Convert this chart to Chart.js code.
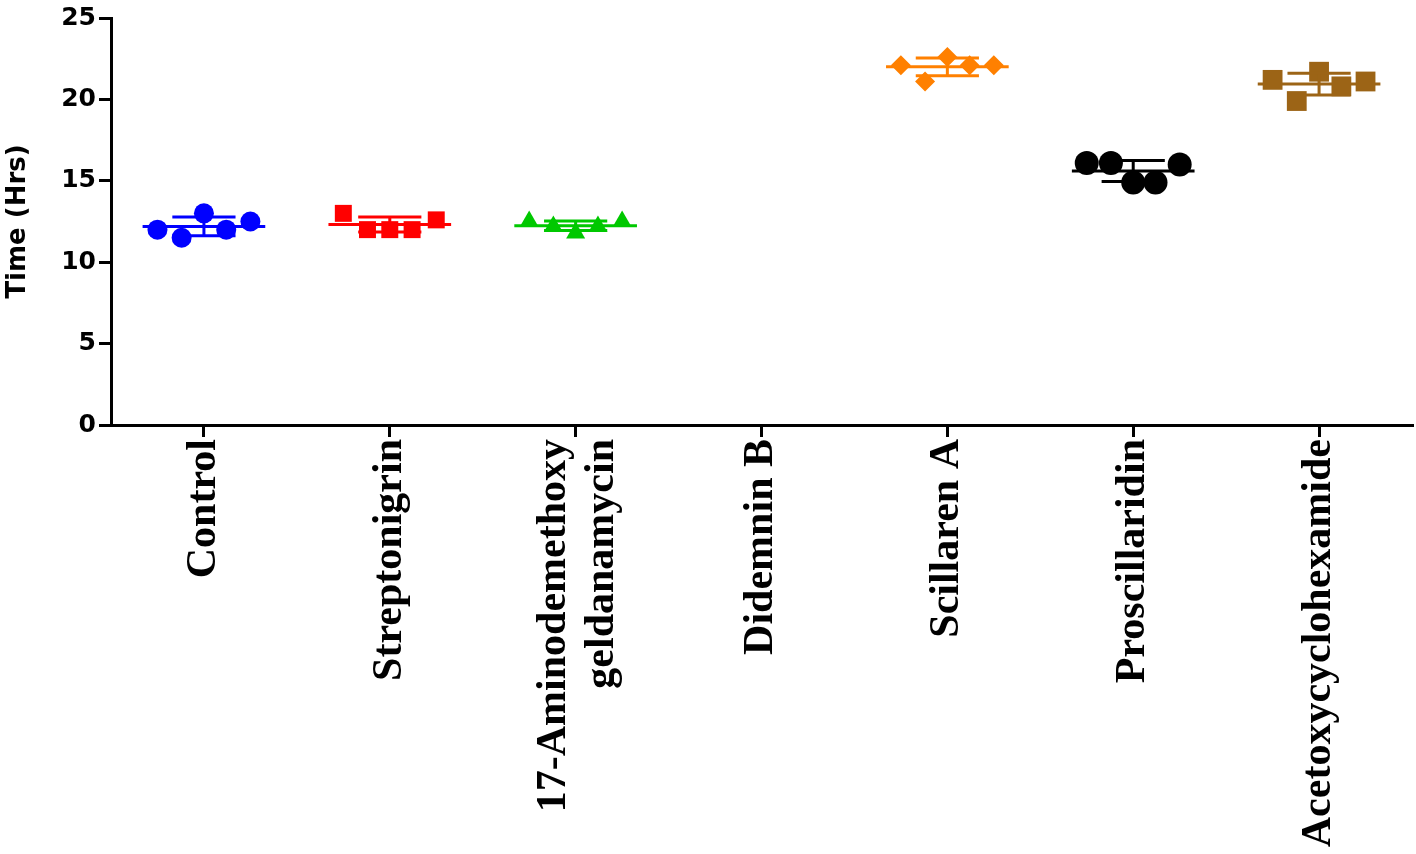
<!DOCTYPE html>
<html>
<head>
<meta charset="utf-8">
<script src="https://cdn.jsdelivr.net/npm/chart.js@4"></script>
<style>
  html, body { margin: 0; padding: 0; background: #fff; }
  #wrap { width: 1416px; height: 854px; }
</style>
</head>
<body>
<div id="wrap"><canvas id="chart"></canvas></div>
<script>
// Categories and tick labels
const categories = ['Control', 'Streptonigrin', ['17-Aminodemethoxy', 'geldanamycin'], 'Didemnin B', 'Scillaren A', 'Proscillaridin', 'Acetoxycyclohexamide'];
const yTicks = [0, 5, 10, 15, 20, 25];

// Replicate values (Hrs), listed left to right as plotted
const control = [12.0, 11.5, 13.0, 12.0, 12.5];
const streptonigrin = [13.0, 12.0, 12.0, 12.0, 12.6];
const aminodemethoxy = [12.5, 12.2, 11.8, 12.2, 12.5];
const didemninB = [];
const scillarenA = [22.1, 21.1, 22.6, 22.1, 22.1];
const proscillaridin = [16.1, 16.1, 14.9, 14.9, 16.0];
const acetoxy = [21.2, 19.9, 21.7, 20.8, 21.1];

const seriesValues = [control, streptonigrin, aminodemethoxy, didemninB, scillarenA, proscillaridin, acetoxy];
const colors = ['#0000FF', '#FF0000', '#00C800', null, '#FF8000', '#000000', '#9C6416'];
const markers = ['circle', 'rect', 'triangle', null, 'rectRot', 'circle', 'rect'];
const markerSize = [10, 12, 11, 0, 10, 12, 14];

// horizontal scatter of replicate dots around the category centre
const spread = [-0.25, -0.12, 0, 0.12, 0.25];

function mean(a) { return a.reduce((s, v) => s + v, 0) / a.length; }
function sd(a) {
    const m = mean(a);
    return Math.sqrt(a.reduce((s, v) => s + (v - m) * (v - m), 0) / (a.length - 1));
}

const datasets = [];
seriesValues.forEach((vals, i) => {
    if (!vals.length) return;
    const c = i + 1;
    const m = mean(vals);
    const s = sd(vals);
    // mean line, SD caps and the vertical bar between them
    datasets.push({
        type: 'line',
        data: [
            {x: c - 0.33, y: m}, {x: c + 0.33, y: m}, {x: c, y: null},
            {x: c - 0.17, y: m + s}, {x: c + 0.17, y: m + s}, {x: c, y: null},
            {x: c - 0.17, y: m - s}, {x: c + 0.17, y: m - s}, {x: c, y: null},
            {x: c, y: m - s}, {x: c, y: m + s}
        ],
        borderColor: colors[i],
        borderWidth: 3,
        pointRadius: 0,
        spanGaps: false,
        fill: false
    });
    datasets.push({
        type: 'scatter',
        data: vals.map((v, j) => ({x: c + spread[j], y: v})),
        backgroundColor: colors[i],
        borderColor: colors[i],
        borderWidth: 0,
        pointStyle: markers[i],
        pointRadius: markerSize[i]
    });
});

// vertical category labels, multi-line ones centred on their tick
const categoryLabels = {
    id: 'categoryLabels',
    afterDraw(chart) {
        const x = chart.scales.x;
        const ctx = chart.ctx;
        const lineHeight = 48;
        ctx.save();
        ctx.fillStyle = '#000';
        ctx.font = 'bold 42px "Liberation Serif"';
        ctx.textAlign = 'right';
        ctx.textBaseline = 'middle';
        categories.forEach((label, i) => {
            const lines = Array.isArray(label) ? label : [label];
            ctx.save();
            ctx.translate(x.getPixelForValue(i + 1) + (lines.length - 1) * 3, x.top + 14);
            ctx.rotate(-Math.PI / 2);
            lines.forEach((line, j) => {
                ctx.fillText(line, 0, (j - (lines.length - 1) / 2) * lineHeight);
            });
            ctx.restore();
        });
        ctx.restore();
    }
};

new Chart(document.getElementById('chart'), {
    type: 'scatter',
    data: { datasets: datasets },
    plugins: [categoryLabels],
    options: {
        responsive: true,
        maintainAspectRatio: false,
        animation: false,
        layout: { autoPadding: false, padding: { top: 15, right: 4, left: 0, bottom: 0 } },
        plugins: {
            legend: { display: false },
            tooltip: { enabled: false }
        },
        scales: {
            x: {
                type: 'linear',
                min: 0.5,
                max: 7.5,
                afterBuildTicks: scale => {
                    scale.ticks = categories.map((_, i) => ({value: i + 1}));
                },
                afterFit: scale => { scale.height = 429; },
                ticks: { display: false },
                grid: {
                    drawOnChartArea: false,
                    drawTicks: true,
                    tickLength: 12,
                    lineWidth: 3,
                    color: '#000'
                },
                border: { display: true, color: '#000', width: 3 }
            },
            y: {
                min: 0,
                max: 25,
                afterBuildTicks: scale => {
                    scale.ticks = yTicks.map(v => ({value: v}));
                },
                afterFit: scale => { scale.width = 111; },
                ticks: {
                    padding: 3,
                    color: '#000',
                    font: { family: 'DejaVu Sans', weight: 'bold', size: 25 }
                },
                title: {
                    display: true,
                    text: 'Time (Hrs)',
                    color: '#000',
                    padding: { top: 3, bottom: 0 },
                    font: { family: 'DejaVu Sans', weight: 'bold', size: 26 }
                },
                grid: {
                    drawOnChartArea: false,
                    drawTicks: true,
                    tickLength: 12,
                    lineWidth: 3,
                    color: '#000'
                },
                border: { display: true, color: '#000', width: 3 }
            }
        }
    }
});
</script>
</body>
</html>
